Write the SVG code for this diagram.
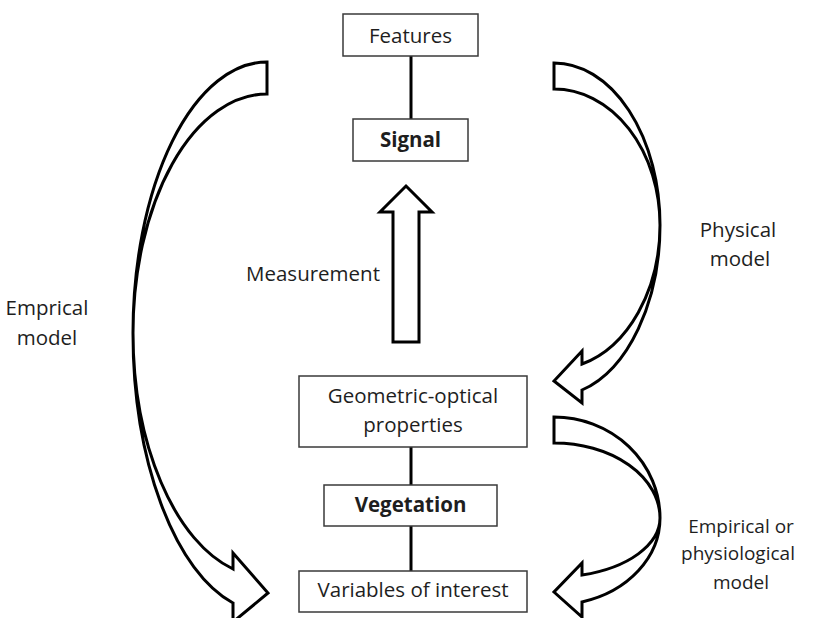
<svg xmlns="http://www.w3.org/2000/svg" width="814" height="618" viewBox="0 0 814 618">
<style>
.box{fill:#fff;stroke:#3a3a3a;stroke-width:1.5}
.t{font-family:"Open Sans","Liberation Sans",sans-serif;font-size:20.5px;fill:#1e1e1e;text-anchor:middle}
.s{font-size:19px}
.b{font-weight:bold}
.arr{fill:#fff;stroke:#000;stroke-width:3;stroke-linejoin:miter}
.con{stroke:#000;stroke-width:3;fill:none}
</style>
<rect width="814" height="618" fill="#fff"/>
<g id="connectors">
<line class="con" x1="411" y1="56" x2="411" y2="119"/>
<line class="con" x1="411" y1="447" x2="411" y2="485"/>
<line class="con" x1="411" y1="526" x2="411" y2="571"/>
<path id="measurement-arrow" class="arr" d="M406,186 L432,212 L419,212 L419,342 L393,342 L393,212 L380,212 Z"/>
<path id="emprical-arrow" class="arr" d="M267,62 A134,271 0 0 0 133,333 A134,279 0 0 0 233,603 L233,622 L268,593 L233,553 L233,569 A134,244 0 0 1 133,333 A134,239 0 0 1 267,94 Z"/>
<path id="physical-arrow" class="arr" d="M554,63 A106,162 0 0 1 660,225 A106,171 0 0 1 582,390 L582,403 L554,381 L582,351 L582,364 A106,144 0 0 0 660,225 A106,136 0 0 0 554,89 Z"/>
<path id="empirical-arrow" class="arr" d="M554,417 A106,101 0 0 1 660,518 A106,87 0 0 1 582,602 L582,617 L554,592 L582,563 L582,575 A106,59 0 0 0 660,518 A106,75 0 0 0 554,443 Z"/>
</g>
<g id="features"><rect class="box" x="343" y="14" width="135" height="42"/><text class="t" x="410.5" y="43">Features</text></g>
<g id="signal"><rect class="box" x="353" y="119" width="115" height="42"/><text class="t b" x="410.5" y="147">Signal</text></g>
<g id="geometric"><rect class="box" x="299" y="376" width="228" height="71"/><text class="t" x="413" y="403">Geometric-optical</text><text class="t" x="413" y="432">properties</text></g>
<g id="vegetation"><rect class="box" x="324" y="485" width="173" height="41"/><text class="t b" x="410.5" y="512">Vegetation</text></g>
<g id="variables"><rect class="box" x="299" y="571" width="228" height="41"/><text class="t" x="413" y="597">Variables of interest</text></g>
<g id="labels">
<text class="t" x="313" y="281">Measurement</text>
<text class="t" x="47" y="315">Emprical</text>
<text class="t" x="47" y="345">model</text>
<text class="t" x="738" y="237">Physical</text>
<text class="t" x="740" y="266">model</text>
<text class="t s" x="741" y="533">Empirical or</text>
<text class="t s" x="738" y="560">physiological</text>
<text class="t s" x="741" y="589">model</text>
</g>
</svg>
